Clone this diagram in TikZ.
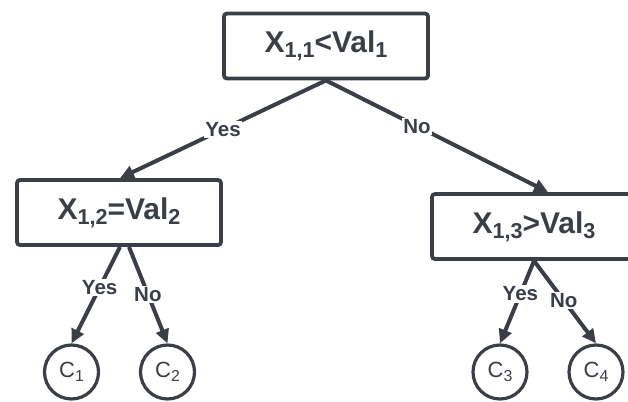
\documentclass[tikz,border=0pt]{standalone}
\usepackage{fontspec}
\setmainfont{Liberation Sans}
\usetikzlibrary{positioning,arrows.meta,shapes}
\definecolor{ink}{RGB}{58,63,71}
\newcommand{\idx}[1]{\raisebox{-0.17em}{\scalebox{0.72}{#1}}}

\begin{document}
\begin{tikzpicture}[
        x=1pt, y=-1pt,
        test/.style={rectangle, draw=ink, text=ink, line width=3.8pt, rounded corners=3pt, minimum width=204pt, minimum height=65pt, font=\fontsize{30}{32}\selectfont\bfseries},
        leaf/.style={circle, draw=ink, text=ink, line width=3.2pt, minimum size=54pt, inner sep=0pt, font=\fontsize{22}{24}\selectfont},
        answer/.style={fill=white, text=ink, inner sep=1.5pt, font=\fontsize{20.5}{22}\selectfont\bfseries},
        arrow/.style={draw=ink, line width=4pt, -{Triangle[length=14pt,width=13pt]}}
    ]
        \useasboundingbox (0,0) rectangle (628,401);

        % Root
        \node[test] (root) at (326,46) {X\idx{1,1}<Val\idx{1}};

        % Yes branch
        \node[test] (left) at (119,212.5) {X\idx{1,2}=Val\idx{2}};
        \node[leaf] (c1) at (71.5,372) {C\idx{1}};
        \node[leaf] (c2) at (167.5,372) {C\idx{2}};

        % No branch
        \node[test] (right) at (534,226.5) {X\idx{1,3}>Val\idx{3}};
        \node[leaf] (c3) at (500,372) {C\idx{3}};
        \node[leaf] (c4) at (596,372) {C\idx{4}};

        % Arrows
        \draw[arrow] (root.south) -- node[answer, pos=0.5] {Yes} ([xshift=1pt]left.north);
        \draw[arrow] (root.south) -- node[answer, pos=0.41] {No} ([xshift=14pt]right.north);
        \draw[arrow] ([xshift=1pt]left.south) -- node[answer, pos=0.42] {Yes} (c1.north);
        \draw[arrow] ([xshift=10pt]left.south) -- node[answer, pos=0.49] {No} (c2.north);
        \draw[arrow] (right.south) -- node[answer, pos=0.4] {Yes} (c3.north);
        \draw[arrow] (right.south) -- node[answer, pos=0.48] {No} (c4.north);
    \end{tikzpicture}
\end{document}
